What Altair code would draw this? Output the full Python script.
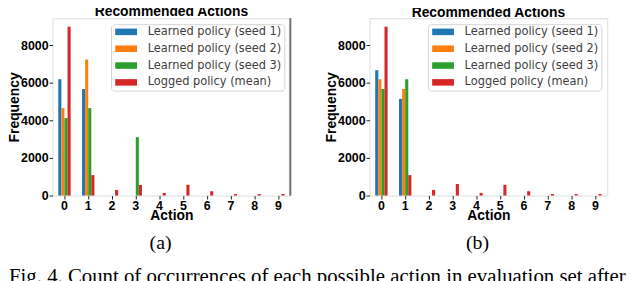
import altair as alt
import pandas as pd

actions = list(range(10))
series_names = [
    "Learned policy (seed 1)",
    "Learned policy (seed 2)",
    "Learned policy (seed 3)",
    "Logged policy (mean)",
]
colors = ["#1f77b4", "#ff7f0e", "#2ca02c", "#d62728"]

# Panel (a)
a_seed1 = [6200, 5680, 0, 0, 0, 0, 0, 0, 0, 0]
a_seed2 = [4660, 7250, 0, 0, 0, 0, 0, 0, 0, 0]
a_seed3 = [4130, 4660, 0, 3110, 0, 0, 0, 0, 0, 0]
a_logged = [9000, 1090, 300, 565, 140, 570, 230, 80, 80, 80]

# Panel (b)
b_seed1 = [6680, 5150, 0, 0, 0, 0, 0, 0, 0, 0]
b_seed2 = [6200, 5680, 0, 0, 0, 0, 0, 0, 0, 0]
b_seed3 = [5680, 6200, 0, 0, 0, 0, 0, 0, 0, 0]
b_logged = [9000, 1090, 300, 615, 140, 570, 230, 80, 80, 80]

y_ticks = [0, 2000, 4000, 6000, 8000]
chart_title = "Recommended Actions"
x_title = "Action"
y_title = "Frequency"
captions = ["(a)", "(b)"]
fig_caption = "Fig. 4.  Count of occurrences of each possible action in evaluation set after"

W, H = 240, 179
legend_path = "M-2,-0.6L2,-0.6L2,0.6L-2,0.6Z"


def make_df(series_lists):
    rows = []
    for name, vals in zip(series_names, series_lists):
        for a, v in zip(actions, vals):
            rows.append({"action": a, "series": name, "count": v})
    return pd.DataFrame(rows)


def panel(series_lists, cap, with_fig_caption, with_edge):
    df = make_df(series_lists)
    bars = alt.Chart(df).mark_bar().encode(
        x=alt.X(
            "action:O",
            scale=alt.Scale(paddingInner=0.48, paddingOuter=0.24),
            axis=alt.Axis(title=x_title, labelAngle=0, titleY=13, titleBaseline="top"),
        ),
        xOffset=alt.XOffset(
            "series:N",
            scale=alt.Scale(domain=series_names, paddingInner=0, paddingOuter=0),
        ),
        y=alt.Y(
            "count:Q",
            scale=alt.Scale(domain=[0, 9450], nice=False, zero=True),
            axis=alt.Axis(title=y_title, values=y_ticks, format="d", titlePadding=-1),
        ),
        color=alt.Color(
            "series:N",
            scale=alt.Scale(domain=series_names, range=colors),
            legend=alt.Legend(
                orient="none",
                legendX=59,
                legendY=6,
                title=None,
                padding=2,
                symbolType=legend_path,
                symbolSize=121,
                symbolOffset=7.5,
                symbolStrokeWidth=0,
                symbolOpacity=1,
                labelOffset=16,
                rowPadding=4,
                labelFont="DejaVu Sans",
                labelFontSize=11.5,
                labelColor="#404040",
                strokeColor="#d4d4d4",
                fillColor="white",
                cornerRadius=3,
            ),
        ),
    )
    cap_df = pd.DataFrame({"t": [cap]})
    cap_text = alt.Chart(cap_df).mark_text(
        font="Liberation Serif", fontSize=20, align="center", baseline="alphabetic", color="black"
    ).encode(x=alt.value(109), y=alt.value(233), text="t:N")
    layers = [bars, cap_text]
    if with_edge:
        edge = alt.Chart(cap_df).mark_rule(color="#707070", strokeWidth=2).encode(
            x=alt.value(W), y=alt.value(0), y2=alt.value(H)
        )
        layers.append(edge)
    if with_fig_caption:
        fc_df = pd.DataFrame({"t": [fig_caption]})
        fc = alt.Chart(fc_df).mark_text(
            font="Liberation Serif", fontSize=21, align="left", baseline="alphabetic", color="black"
        ).encode(x=alt.value(-44), y=alt.value(267), text="t:N")
        layers.append(fc)
    return alt.layer(*layers).properties(
        width=W,
        height=H,
        title=alt.TitleParams(chart_title, font="Liberation Sans", fontSize=14, fontWeight="bold", offset=-2),
    )


pa = panel([a_seed1, a_seed2, a_seed3, a_logged], captions[0], True, True)
pb = panel([b_seed1, b_seed2, b_seed3, b_logged], captions[1], False, False)

chart = (
    alt.hconcat(pa, pb, spacing=80, bounds="flush")
    .resolve_scale(color="independent")
    .properties(padding={"left": -1, "top": -5, "right": 0, "bottom": 0})
    .configure_view(stroke="#dddddd", strokeWidth=1)
    .configure_axis(
        domain=False,
        grid=False,
        tickColor="#222222",
        tickSize=3.5,
        labelFont="Liberation Sans",
        labelFontWeight="bold",
        labelFontSize=12.5,
        labelColor="black",
        labelPadding=1,
        titleFont="Liberation Sans",
        titleFontWeight="bold",
        titleFontSize=14,
        titleColor="black",
    )
)

chart.save("out.html", embed_options={"renderer": "svg", "actions": False})
